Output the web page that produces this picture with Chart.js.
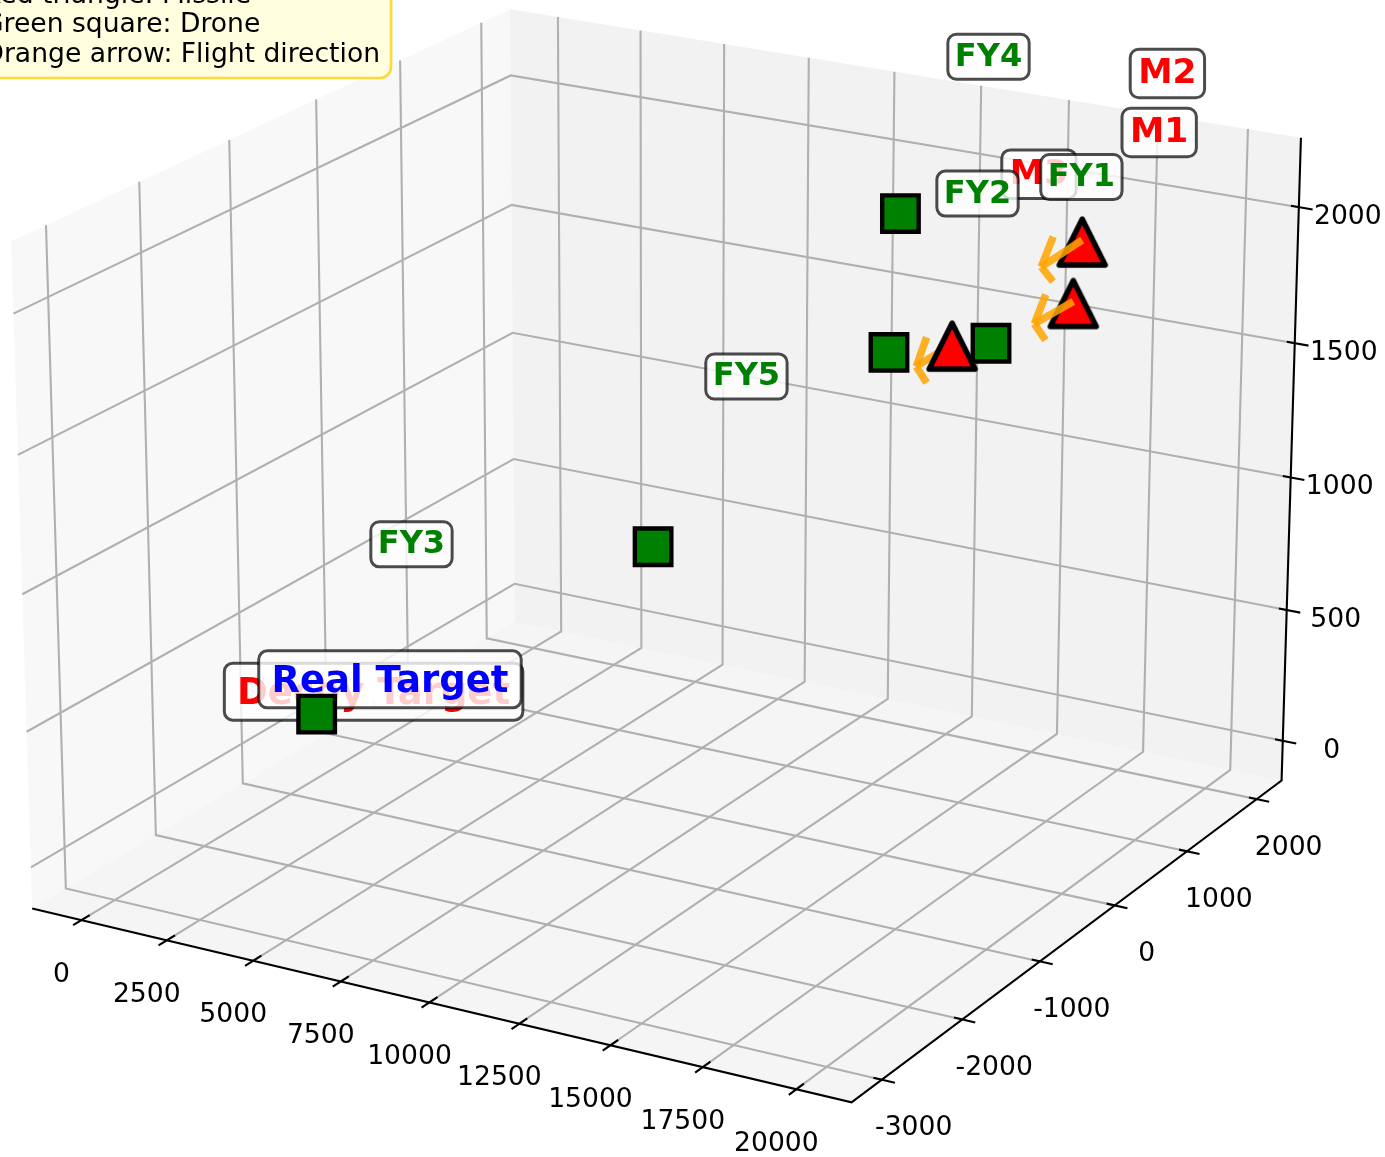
<!DOCTYPE html>
<html>
<head>
<meta charset="utf-8">
<title>Missiles and drones</title>
<script src="https://cdn.jsdelivr.net/npm/chart.js@4"></script>
<style>
    html, body { margin: 0; padding: 0; background: #fff; overflow: hidden; }
    canvas { display: block; }
</style>
</head>
<body>
<canvas id="chart" width="1385" height="1157"></canvas>
<script>
// Datos
const missileNames = ['M1', 'M2', 'M3'];
const missileX = [20000, 19000, 18000];
const missileY = [0, 600, -600];
const missileZ = [2000, 2100, 1900];

const droneNames = ['FY1', 'FY2', 'FY3', 'FY4', 'FY5'];
const droneX = [17800, 12000, 6000, 11000, 13000];
const droneY = [0, 1400, -3000, 2000, -2000];
const droneZ = [1800, 1400, 700, 1800, 1300];

const targetNames = ['Decoy Target', 'Real Target'];
const targetColors = ['#ff0000', '#0000ff'];
const targetX = [0, 0];
const targetY = [0, 200];
const targetZ = [0, 0];
const targetHeight = 10;
const targetLabelLift = [50, 60];

const xTicks = [0, 2500, 5000, 7500, 10000, 12500, 15000, 17500, 20000];
const yTicks = [-3000, -2000, -1000, 0, 1000, 2000];
const zTicks = [0, 500, 1000, 1500, 2000];

const legendLines = ['Red triangle: Missile', 'Green square: Drone', 'Orange arrow: Flight direction'];

const arrowLength = 1040;
const arrowHead = 0.3;

// Limites de los ejes 3D
const xLim = [-1458, 21458];
const yLim = [-3365, 2365];
const zLim = [-153, 2253];

// Camara (elev 20, azim -60)
const elev = 20 * Math.PI / 180;
const azim = -60 * Math.PI / 180;
const dist = 10;
const boxX = 1.24, boxY = 1.24, boxZ = 0.93;
const scale = 7490, originX = 670, originY = 521;

const WIDTH = 1385, HEIGHT = 1157;

function project(x, y, z) {
    const rx = ((x - xLim[0]) / (xLim[1] - xLim[0]) - 0.5) * boxX;
    const ry = ((y - yLim[0]) / (yLim[1] - yLim[0]) - 0.5) * boxY;
    const rz = ((z - zLim[0]) / (zLim[1] - zLim[0]) - 0.5) * boxZ;
    const se = Math.sin(elev), ce = Math.cos(elev), sa = Math.sin(azim), ca = Math.cos(azim);
    const xv = -sa * rx + ca * ry;
    const yv = -se * ca * rx - se * sa * ry + ce * rz;
    const zv = ce * ca * rx + ce * sa * ry + se * rz;
    const f = scale / (dist - zv);
    return { x: originX + xv * f, y: originY - yv * f };
}

const datasets = [];

function addLine(points, color, width, extra) {
    datasets.push(Object.assign({
        data: points.map(p => project(p[0], p[1], p[2])),
        showLine: true,
        borderColor: color,
        borderWidth: width,
        pointRadius: 0,
        tension: 0,
        fill: false,
        borderCapStyle: 'butt'
    }, extra || {}));
}

function addPane(points, color) {
    addLine(points.concat([points[0]]), 'rgba(0,0,0,0)', 0, { fill: 'shape', backgroundColor: color });
}

const [x0, x1] = xLim, [y0, y1] = yLim, [z0, z1] = zLim;

// Paneles
addPane([[x0, y0, z0], [x1, y0, z0], [x1, y1, z0], [x0, y1, z0]], 'rgba(236,236,236,0.5)');
addPane([[x0, y0, z0], [x0, y1, z0], [x0, y1, z1], [x0, y0, z1]], 'rgba(242,242,242,0.5)');
addPane([[x0, y1, z0], [x1, y1, z0], [x1, y1, z1], [x0, y1, z1]], 'rgba(230,230,230,0.5)');

// Rejilla
const gridColor = '#b0b0b0';
xTicks.forEach(t => addLine([[t, y0, z0], [t, y1, z0], [t, y1, z1]], gridColor, 2.1));
yTicks.forEach(t => addLine([[x1, t, z0], [x0, t, z0], [x0, t, z1]], gridColor, 2.1));
zTicks.forEach(t => addLine([[x1, y1, t], [x0, y1, t], [x0, y0, t]], gridColor, 2.1));

// Ejes y marcas
addLine([[x0, y0, z0], [x1, y0, z0], [x1, y1, z0], [x1, y1, z1]], '#000', 2.1);
xTicks.forEach(t => addLine([[t, y0 - 90, z0], [t, y0 + 90, z0]], '#000', 2.1));
yTicks.forEach(t => addLine([[x1 - 220, t, z0], [x1 + 350, t, z0]], '#000', 2.1));
zTicks.forEach(t => addLine([[x1 - 220, y1, t], [x1 + 380, y1, t]], '#000', 2.1));

// Objetivos (muy pequenos)
targetNames.forEach((name, i) => {
    datasets.push({
        label: i === targetNames.length - 1 ? 'lastTarget' : name,
        data: [project(targetX[i], targetY[i], targetZ[i]), project(targetX[i], targetY[i], targetZ[i] + targetHeight)],
        pointRadius: 1.3,
        pointBorderWidth: 0,
        pointBackgroundColor: targetColors[i]
    });
});

function arrowSegments(i) {
    const sx = missileX[i], sy = missileY[i], sz = missileZ[i];
    const norm = Math.hypot(sx, sy, sz);
    const d = [-sx / norm, -sy / norm, -sz / norm];
    const tip = [sx + d[0] * arrowLength, sy + d[1] * arrowLength, sz + d[2] * arrowLength];
    const h = Math.hypot(d[0], d[1]);
    const n = [-d[2] * d[0] / h, -d[2] * d[1] / h, h];
    const c = Math.cos(15 * Math.PI / 180), s = Math.sin(15 * Math.PI / 180);
    const back = arrowLength * arrowHead;
    const barb = sign => [0, 1, 2].map(k => tip[k] - back * (c * d[k] + sign * s * n[k]));
    return [[[sx, sy, sz], tip], [tip, barb(1)], [tip, barb(-1)]];
}

function addArrow(i) {
    arrowSegments(i).forEach(seg => addLine(seg, 'rgba(255,165,0,0.85)', 7.5));
}

function triangleImage() {
    const c = document.createElement('canvas');
    c.width = 64; c.height = 64;
    const g = c.getContext('2d');
    g.beginPath();
    g.moveTo(32, 11);
    g.lineTo(55, 57);
    g.lineTo(9, 57);
    g.closePath();
    g.fillStyle = '#ff0000';
    g.fill();
    g.lineWidth = 5.4;
    g.lineJoin = 'round';
    g.strokeStyle = '#000';
    g.stroke();
    return c;
}
const triangle = triangleImage();

function addMissile(i) {
    datasets.push({
        data: [project(missileX[i], missileY[i], missileZ[i])],
        pointStyle: triangle,
        pointRadius: 32
    });
}

function addDrone(i) {
    datasets.push({
        data: [project(droneX[i], droneY[i], droneZ[i])],
        pointStyle: 'rect',
        pointRadius: 25.8,
        pointBackgroundColor: '#008000',
        pointBorderColor: '#000',
        pointBorderWidth: 4.4
    });
}

// Orden de dibujo de la figura original
addDrone(3);
addDrone(1);
addDrone(2);
addDrone(4);
addArrow(2);
addMissile(2);
addDrone(0);
addMissile(0);
addMissile(1);
addArrow(0);
addArrow(1);

// Chart.js dibuja primero el order mas alto
datasets.forEach((d, i) => { d.order = -i; });

function boxLabel(chart, text, px, py, color, size, boxH, pad, raise, centered) {
    const ctx = chart.ctx;
    ctx.save();
    ctx.font = 'bold ' + size + 'px "DejaVu Sans"';
    const w = ctx.measureText(text).width;
    const left = centered ? px - w / 2 : px;
    ctx.beginPath();
    ctx.roundRect(left - pad, py - boxH / 2, w + 2 * pad, boxH, 8.5);
    ctx.fillStyle = 'rgba(255,255,255,0.8)';
    ctx.fill();
    ctx.lineWidth = 3;
    ctx.strokeStyle = 'rgba(0,0,0,0.7)';
    ctx.stroke();
    ctx.fillStyle = color;
    ctx.textAlign = 'left';
    ctx.textBaseline = 'alphabetic';
    ctx.fillText(text, left, py + size * 0.36 - raise);
    ctx.restore();
}

const labelPlugin = {
    id: 'labels3d',
    afterDatasetDraw(chart, args) {
        if (chart.data.datasets[args.index].label !== 'lastTarget') return;
        const sx = chart.scales.x, sy = chart.scales.y;
        const at = (x, y, z) => {
            const p = project(x, y, z);
            return [sx.getPixelForValue(p.x), sy.getPixelForValue(p.y)];
        };
        missileNames.forEach((name, i) => {
            const p = at(missileX[i], missileY[i] + 700, missileZ[i] + 500);
            boxLabel(chart, name, p[0] + 1, p[1] + 3.5, '#ff0000', 34.5, 48.5, 8, 2.5, false);
        });
        droneNames.forEach((name, i) => {
            const p = at(droneX[i], droneY[i] + 700, droneZ[i] + 500);
            boxLabel(chart, name, p[0] + 1, p[1] + 5, '#008000', 32, 45, 7, 2.5, false);
        });
        targetNames.forEach((name, i) => {
            const p = at(targetX[i], targetY[i], targetZ[i] + targetLabelLift[i]);
            boxLabel(chart, name, p[0], p[1], targetColors[i], 37, 57, 12.7, 1, true);
        });
    },
    afterDatasetsDraw(chart) {
        const ctx = chart.ctx;
        const sx = chart.scales.x, sy = chart.scales.y;
        ctx.save();
        ctx.font = '26.6px "DejaVu Sans"';
        ctx.fillStyle = '#000';
        ctx.textAlign = 'center';
        ctx.textBaseline = 'middle';
        const tickText = (t, p, dx, dy) => {
            ctx.fillText(String(t), sx.getPixelForValue(p.x) + dx, sy.getPixelForValue(p.y) + dy);
        };
        xTicks.forEach(t => tickText(t, project(t, y0, z0), -20, 54.6));
        yTicks.forEach(t => tickText(t, project(x1, t, z0), 32, 48.6));
        zTicks.forEach(t => tickText(t, project(x1, y1, t), 49, 10));

        // Nota de la leyenda, recortada por el borde de la figura
        ctx.beginPath();
        ctx.roundRect(-40, -40, 431, 118, 11);
        ctx.fillStyle = '#ffffe0';
        ctx.fill();
        ctx.lineWidth = 2.7;
        ctx.strokeStyle = '#ffd83a';
        ctx.stroke();
        ctx.fillStyle = '#000';
        ctx.textAlign = 'left';
        legendLines.forEach((line, i) => ctx.fillText(line, -17, -4 + i * 29.3));
        ctx.restore();
    }
};

new Chart(document.getElementById('chart').getContext('2d'), {
    type: 'scatter',
    data: { datasets: datasets },
    options: {
        responsive: false,
        animation: false,
        events: [],
        layout: { padding: 0, autoPadding: false },
        scales: {
            x: { type: 'linear', display: false, min: 0, max: WIDTH },
            y: { type: 'linear', display: false, min: 0, max: HEIGHT, reverse: true }
        },
        plugins: {
            legend: { display: false },
            tooltip: { enabled: false }
        }
    },
    plugins: [labelPlugin]
});
</script>
</body>
</html>
